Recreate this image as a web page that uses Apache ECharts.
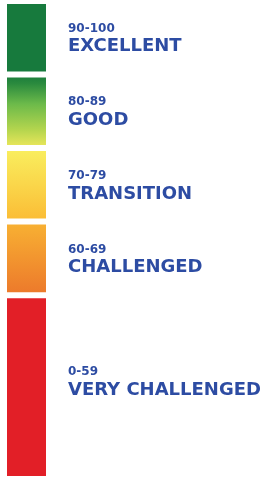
<!DOCTYPE html>
<html>
<head>
<meta charset="utf-8">
<script src="https://cdn.jsdelivr.net/npm/echarts@6/dist/echarts.min.js"></script>
<style>
  html, body { margin: 0; padding: 0; background: #fff; }
  #chart { width: 267px; height: 479px; }
</style>
</head>
<body>
<div id="chart"></div>
<script>
// bands listed bottom to top
const ranges = ['0-59', '60-69', '70-79', '80-89', '90-100']
const ratings = ['VERY CHALLENGED', 'CHALLENGED', 'TRANSITION', 'GOOD', 'EXCELLENT']
// drawn height of each band (the red band is drawn taller)
const bandSizes = [2.5, 1, 1, 1, 1]

const grad = (stops) => new echarts.graphic.LinearGradient(0, 0, 0, 1,
  stops.map(([offset, color]) => ({ offset, color })))

const fills = [
  '#e21f27',
  grad([[0, '#f8b233'], [1, '#ec782b']]),
  grad([[0, '#f9ef5f'], [0.5, '#fad64a'], [1, '#fbbb34']]),
  grad([[0, '#197a3b'], [0.12, '#2a8a3e'], [0.4, '#6cba4a'], [0.75, '#b4d54e'], [1, '#efe85c']]),
  '#177a3d'
]

const blue = '#2d4ca3'

const chart = echarts.init(document.getElementById('chart'))

const series = ranges.map((r, i) => ({
  type: 'bar',
  stack: 'scale',
  barWidth: '100%',
  data: [bandSizes[i]],
  itemStyle: {
    color: fills[i],
    borderColor: '#fff',
    borderWidth: 3
  },
  label: {
    show: true,
    position: 'right',
    distance: 19,
    offset: i === 0 ? [0, -5] : [0, 1],
    formatter: `{r|${r}}\n{n|${ratings[i]}}`,
    rich: {
      r: {
        fontFamily: 'DejaVu Sans',
        fontWeight: 'bold',
        fontSize: 12,
        lineHeight: 16,
        color: blue
      },
      n: {
        fontFamily: 'DejaVu Sans',
        fontWeight: 'bold',
        fontSize: 18,
        lineHeight: 20,
        color: blue
      }
    }
  }
}))

chart.setOption({
  animation: false,
  grid: { left: 4, width: 45, top: 1, bottom: -5 },
  xAxis: { type: 'category', data: ['score'], show: false },
  yAxis: { type: 'value', min: 0, max: 6.5, show: false },
  series
})
</script>
</body>
</html>
